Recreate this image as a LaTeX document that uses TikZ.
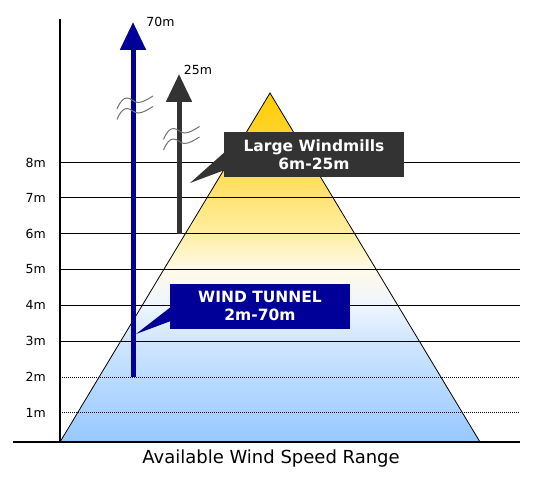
\documentclass[tikz,border=0pt]{standalone}
\usepackage{fontspec}
\setmainfont{DejaVu Sans}
\usetikzlibrary{arrows.meta}
\definecolor{tunnelnavy}{RGB}{0,0,153}
\definecolor{millgray}{RGB}{51,51,51}
\definecolor{fadeA}{RGB}{150,200,255}
\definecolor{fadeB}{RGB}{208,230,255}
\definecolor{fadeC}{RGB}{238,245,255}
\definecolor{fadeD}{RGB}{255,250,232}
\definecolor{fadeE}{RGB}{255,238,160}
\definecolor{fadeF}{RGB}{255,218,75}
\definecolor{fadeG}{RGB}{255,204,0}
\pgfdeclareverticalshading{windfade}{100bp}{color(0bp)=(fadeA); color(25bp)=(fadeA);
	color(39.5bp)=(fadeB); color(44.6bp)=(fadeC); color(49.8bp)=(fadeD);
	color(55bp)=(fadeE); color(65bp)=(fadeF); color(75bp)=(fadeG); color(100bp)=(fadeG)}

\begin{document}
\begin{tikzpicture}[x=1pt,y=-1pt,
		gridline/.style={line width=1pt},
		gridhalf/.style={line width=1pt,dash pattern=on 1pt off 1pt},
		scalelabel/.style={anchor=east,inner sep=0pt,font=\fontsize{12.5}{14}\selectfont},
		toplabel/.style={inner sep=0pt,font=\fontsize{12.5}{14}\selectfont},
		wavemark/.style={draw=black!55,line width=1pt},
		speedbar/.style={line width=5pt,-{Triangle[width=25pt,length=28pt]}},
		callbox/.style={text=white,font=\bfseries\fontsize{15.5}{18}\selectfont,align=center,
			minimum width=180pt,minimum height=45pt,inner sep=0pt}]
		\useasboundingbox (0,0) rectangle (540,489);
		\coordinate (apex) at (270,93);
		\coordinate (baseL) at (60,442);
		\coordinate (baseR) at (480,442);
		\shade[shading=windfade] (baseL) -- (apex) -- (baseR) -- cycle;
		%%%%%%%%%%%%%%%%%%%%%%%%%%%%%%%%%
		\node[scalelabel] (lab8) at (46,162.5){8m};
		\node[scalelabel] (lab7) at (46,197.5){7m};
		\node[scalelabel] (lab6) at (46,233.5){6m};
		\node[scalelabel] (lab5) at (46,269){5m};
		\node[scalelabel] (lab4) at (46,305){4m};
		\node[scalelabel] (lab3) at (46,341){3m};
		\node[scalelabel] (lab2) at (46,377){2m};
		\node[scalelabel] (lab1) at (46,412.5){1m};
		\draw[gridline] (60,162.5) -- (520,162.5);
		\draw[gridline] (60,197.5) -- (520,197.5);
		\draw[gridline] (60,233.5) -- (520,233.5);
		\draw[gridline] (60,269) -- (520,269);
		\draw[gridline] (60,305) -- (520,305);
		\draw[gridline] (60,341) -- (520,341);
		\draw[gridhalf] (60,377) -- (520,377);
		\draw[gridhalf] (60,412.5) -- (520,412.5);
		\draw[line width=.8pt] (baseL) -- (apex) -- (baseR);
		\draw[line width=1.2pt] (60,19) -- (60,442);
		\draw[line width=2.5pt] (13,442) -- (520,442);
		%%%%%%%%%%%%%%%%%%%%%%%%%%%%%%%%%
		\coordinate (tunnelfoot) at (133,377);
		\coordinate (tunneltip) at (133,22);
		\draw[speedbar,tunnelnavy] (tunnelfoot) -- (tunneltip);
		\node[toplabel] (tunnelmax) at (160.5,21.5){70m};
		\coordinate (millfoot) at (179,233.5);
		\coordinate (milltip) at (179,74);
		\draw[speedbar,millgray] (millfoot) -- (milltip);
		\node[toplabel] (millmax) at (198,69.5){25m};
		%%%%%%%%%%%%%%%%%%%%%%%%%%%%%%%%%
		\draw[wavemark] (117,109) .. controls (120,102) and (123,98) .. (127,98) .. controls (131,98) and (134,102.5) .. (138,102.5) .. controls (143,102.5) and (148,99) .. (153,96);
		\draw[wavemark,shift={(0,10.5)}] (117,109) .. controls (120,102) and (123,98) .. (127,98) .. controls (131,98) and (134,102.5) .. (138,102.5) .. controls (143,102.5) and (148,99) .. (153,96);
		\draw[wavemark,shift={(46.5,30.5)}] (117,109) .. controls (120,102) and (123,98) .. (127,98) .. controls (131,98) and (134,102.5) .. (138,102.5) .. controls (143,102.5) and (148,99) .. (153,96);
		\draw[wavemark,shift={(46.5,41)}] (117,109) .. controls (120,102) and (123,98) .. (127,98) .. controls (131,98) and (134,102.5) .. (138,102.5) .. controls (143,102.5) and (148,99) .. (153,96);
		%%%%%%%%%%%%%%%%%%%%%%%%%%%%%%%%%
		\node[callbox,fill=millgray] (millbox) at (314,154.5){Large Windmills\\6m-25m};
		\coordinate (millpoint) at (190,183);
		\fill[millgray] ([xshift=1pt,yshift=2.5pt]millbox.west) -- (millpoint) -- ([xshift=1pt,yshift=-15.5pt]millbox.west) -- cycle;
		\node[callbox,fill=tunnelnavy] (tunnelbox) at (260,306){WIND TUNNEL\\2m-70m};
		\coordinate (tunnelpoint) at (136,334);
		\fill[tunnelnavy] ([xshift=1pt,yshift=-1pt]tunnelbox.west) -- (tunnelpoint) -- ([xshift=1pt,yshift=-15pt]tunnelbox.west) -- cycle;
		%%%%%%%%%%%%%%%%%%%%%%%%%%%%%%%%%
		\node[font=\fontsize{18}{22}\selectfont] (rangetitle) at (271,459){Available Wind Speed Range};
	\end{tikzpicture}
\end{document}
